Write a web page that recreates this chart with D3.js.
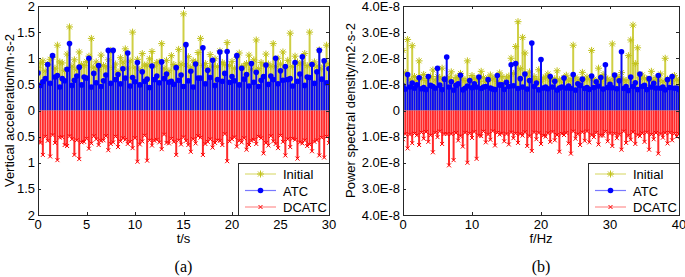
<!DOCTYPE html>
<html>
<head>
<meta charset="utf-8">
<script src="https://cdn.jsdelivr.net/npm/d3@7"></script>
<style>
  body { margin: 0; background: #fff; }
  svg { display: block; }
  text { font-family: "Liberation Sans", Arial, sans-serif; fill: #000; }
  .cap { font-family: "Liberation Serif", "Times New Roman", serif; font-size: 16px; }
</style>
</head>
<body>
<script>
// ---- data (each value is the local peak of the dense trace) ----
var seriesNames = ['Initial', 'ATC', 'DCATC']

// (a) vertical acceleration, 0-30 s
var accTimeMax = 30
var accInitial = [
  0.82, 0.91, 0.95, 0.76, 0.88, 0.98, 1.02, 0.81, 1.25, 0.93,
  0.91, 0.77, 1.08, 1.60, 0.85, 0.97, 0.79, 1.12, 0.88, 0.86,
  0.94, 1.04, 1.38, 0.83, 0.93, 0.78, 1.06, 0.86, 0.84, 0.97,
  1.15, 0.82, 0.89, 0.74, 1.01, 0.93, 1.18, 0.81, 0.95, 1.50,
  0.83, 0.98, 0.79, 1.09, 0.87, 0.87, 0.99, 1.13, 0.85, 0.92,
  0.93, 1.28, 0.81, 0.96, 0.76, 1.05, 0.88, 0.83, 1.17, 0.89,
  1.85, 0.87, 1.03, 0.83, 0.95, 0.92, 1.11, 1.38, 0.86, 0.90,
  0.81, 1.07, 0.85, 0.99, 0.84, 1.14, 0.92, 0.88, 1.30, 0.86,
  0.94, 0.81, 1.02, 1.10, 0.83, 0.86, 0.90, 1.06, 0.78, 0.97,
  1.35, 0.80, 0.92, 0.87, 1.08, 0.89, 0.85, 1.28, 0.84, 1.00,
  0.89, 1.12, 0.82, 0.96, 1.48, 0.84, 1.04, 0.92, 0.89, 0.91,
  1.09, 0.86, 1.50, 0.88, 0.93, 0.85, 1.16, 0.80, 0.87, 1.25,
  0.90]
var accATC = [
  0.72, 0.48, 0.55, 0.61, 0.88, 0.52, 1.05, 0.64, 0.67, 0.45,
  0.61, 0.57, 0.79, 1.28, 0.48, 0.58, 0.66, 0.83, 0.49, 0.64,
  0.62, 1.00, 0.45, 0.71, 0.53, 0.86, 0.46, 0.57, 0.68, 1.15,
  0.52, 1.15, 0.59, 0.69, 0.51, 0.80, 0.62, 1.10, 0.47, 0.63,
  0.55, 0.92, 0.49, 0.74, 0.56, 0.60, 0.44, 0.85, 0.59, 0.66,
  0.53, 0.93, 0.61, 0.70, 0.54, 0.56, 0.50, 0.82, 0.58, 0.68,
  0.46, 1.26, 0.57, 0.75, 0.45, 0.89, 0.62, 0.62, 1.20, 0.51,
  0.77, 0.63, 0.96, 0.48, 0.59, 1.12, 0.56, 0.71, 1.13, 0.54,
  0.65, 0.57, 1.05, 0.49, 0.81, 0.60, 0.69, 0.47, 0.90, 0.54,
  0.73, 0.46, 0.58, 0.65, 0.87, 0.50, 0.66, 0.59, 1.00, 0.51,
  0.76, 0.58, 0.84, 0.59, 0.61, 0.47, 0.92, 0.56, 0.70, 1.03,
  0.48, 0.64, 0.63, 0.88, 0.52, 0.74, 1.15, 0.60, 0.95, 0.53,
  0.80]
// DCATC is drawn downwards (magnitudes)
var accDCATC = [
  0.55, 0.62, 0.85, 0.50, 0.58, 0.88, 0.47, 0.62, 0.95, 0.52,
  0.51, 0.66, 0.68, 0.49, 0.55, 0.85, 0.57, 0.93, 0.61, 0.60,
  0.54, 0.73, 0.63, 0.49, 0.55, 0.66, 0.58, 0.57, 0.49, 0.76,
  0.64, 0.61, 0.50, 0.70, 0.59, 0.53, 0.56, 0.64, 0.60, 0.72,
  0.53, 0.98, 0.65, 0.59, 0.48, 0.96, 0.57, 0.67, 0.58, 0.56,
  0.61, 0.74, 0.46, 0.62, 0.63, 0.54, 0.60, 0.85, 0.57, 0.65,
  0.51, 0.58, 0.66, 0.79, 0.55, 0.63, 0.49, 0.52, 0.85, 0.64,
  0.60, 0.55, 0.71, 0.62, 0.57, 0.58, 0.66, 0.45, 0.97, 0.59,
  0.55, 0.51, 0.69, 0.58, 0.61, 0.53, 0.75, 0.66, 0.58, 0.56,
  0.64, 0.50, 0.53, 0.82, 0.62, 0.67, 0.49, 0.59, 0.64, 0.72,
  0.48, 0.60, 0.86, 0.55, 0.70, 0.54, 0.56, 0.92, 0.61, 0.63,
  0.57, 0.68, 0.65, 0.78, 0.60, 0.57, 0.86, 0.52, 0.90, 0.50,
  0.62]
var accXTicks = [0, 5, 10, 15, 20, 25, 30]
var accYTicks = [-2, -1.5, -1, -0.5, 0, 0.5, 1, 1.5, 2]

// (b) power spectral density, 0-40 Hz, in units of 1E-8
var psdFreqMax = 40
var psdInitial = [
  2.30, 1.45, 2.72, 1.20, 2.48, 1.30, 1.15, 1.90, 1.22, 1.38,
  1.15, 1.22, 1.30, 1.55, 1.18, 1.30, 1.25, 1.62, 1.20, 1.18,
  1.28, 1.48, 1.13, 1.27, 1.26, 1.42, 1.22, 1.15, 1.90, 1.18,
  1.34, 1.24, 1.20, 1.12, 1.50, 1.26, 1.12, 1.24, 1.36, 1.20,
  1.25, 1.11, 1.44, 1.30, 1.08, 1.25, 1.32, 2.00, 1.42, 2.45,
  3.40, 1.60, 2.80, 2.20, 1.35, 1.48, 1.16, 1.30, 1.20, 1.56,
  1.12, 1.24, 1.28, 1.40, 1.17, 1.18, 1.22, 1.52, 1.18, 1.10,
  1.26, 1.35, 1.14, 1.22, 2.50, 1.28, 1.16, 1.18, 1.46, 1.19,
  1.28, 1.20, 2.30, 1.20, 1.12, 1.62, 1.12, 1.38, 1.24, 1.20,
  1.16, 2.55, 1.22, 1.30, 1.25, 1.45, 1.18, 1.14, 2.10, 2.70,
  3.27, 1.80, 2.40, 1.25, 1.36, 1.22, 1.22, 1.18, 1.50, 1.17,
  1.26, 1.16, 1.40, 1.13, 2.00, 1.20, 1.18, 1.10, 1.34, 1.20,
  1.15]
var psdATC = [
  0.95, 0.82, 1.38, 0.90, 1.05, 0.85, 0.98, 1.25, 0.83, 0.88,
  0.80, 1.30, 0.96, 0.92, 0.85, 1.62, 0.97, 0.80, 1.20, 2.05,
  0.90, 1.10, 0.78, 0.96, 1.02, 1.35, 0.79, 0.85, 0.94, 1.15,
  0.87, 1.02, 0.90, 1.28, 0.84, 0.90, 0.92, 1.18, 0.86, 0.82,
  0.80, 1.34, 0.98, 0.98, 0.81, 1.08, 0.92, 1.75, 0.95, 1.80,
  0.84, 1.22, 0.90, 1.40, 0.82, 1.15, 2.58, 0.92, 1.05, 0.79,
  1.95, 0.86, 0.90, 0.83, 1.30, 0.90, 1.12, 0.78, 0.86, 0.90,
  1.24, 0.86, 0.94, 0.84, 1.38, 0.78, 1.02, 0.96, 1.20, 0.84,
  0.88, 0.81, 1.32, 0.88, 1.10, 0.94, 1.26, 0.82, 1.75, 0.88,
  1.00, 0.87, 1.36, 0.83, 1.14, 2.25, 0.84, 0.92, 0.77, 1.28,
  0.92, 1.06, 0.80, 1.40, 0.92, 0.96, 0.80, 1.22, 0.90, 1.04,
  0.86, 1.34, 0.85, 0.90, 0.79, 1.18, 0.88, 1.30, 0.85, 0.86,
  0.80]
var psdDCATC = [
  1.10, 0.90, 1.45, 0.92, 1.25, 0.88, 0.95, 1.32, 0.84, 1.08,
  0.82, 1.20, 0.95, 1.60, 0.85, 1.02, 0.80, 1.28, 0.90, 0.90,
  2.10, 0.90, 1.90, 0.86, 1.15, 0.98, 1.38, 0.85, 2.00, 0.88,
  1.05, 0.82, 1.85, 0.96, 0.98, 0.80, 1.22, 0.92, 1.12, 0.79,
  1.34, 0.85, 0.92, 0.88, 1.18, 0.90, 1.30, 0.84, 1.06, 0.88,
  1.24, 0.90, 0.96, 0.83, 1.36, 0.98, 1.55, 0.84, 1.10, 0.86,
  1.28, 0.96, 1.00, 0.87, 1.20, 0.82, 1.14, 0.94, 1.58, 0.89,
  0.94, 0.86, 1.26, 1.65, 0.80, 1.08, 0.91, 1.32, 0.83, 1.16,
  0.80, 1.22, 0.94, 1.02, 0.85, 1.30, 0.96, 0.96, 0.81, 1.18,
  0.88, 1.36, 0.89, 1.06, 0.92, 1.50, 0.80, 1.24, 0.97, 1.12,
  0.83, 1.28, 0.94, 0.98, 0.87, 1.20, 0.84, 1.50, 0.92, 1.10,
  0.86, 1.65, 0.90, 1.04, 0.86, 1.26, 0.85, 1.14, 0.88, 1.00,
  0.90]
var psdXTicks = [0, 10, 20, 30, 40]
var psdYTicks = [-4, -3, -2, -1, 0, 1, 2, 3, 4]

// ---- drawing ----
var W = 685, H = 277
var svg = d3.select('body').append('svg').attr('width', W).attr('height', H)

var styles = {
  Initial: { line: '#dcdc78', stem: '#cfcf44', mark: '#c2c21c' },
  ATC:     { line: '#7878ff', stem: '#0a0af5', mark: '#0000ff' },
  DCATC:   { line: '#ff9090', stem: '#ff2a2a', mark: '#ff0000' }
}

function marker(g, name, cx, cy) {
  var c = styles[name].mark
  if (name == 'Initial') {
    g.append('path')
      .attr('d', 'M' + (cx - 3.5) + ',' + cy + 'h7M' + cx + ',' + (cy - 3.5) + 'v7' +
                 'M' + (cx - 2.5) + ',' + (cy - 2.5) + 'l5,5M' + (cx - 2.5) + ',' + (cy + 2.5) + 'l5,-5')
      .attr('stroke', c).attr('stroke-width', 1).attr('fill', 'none')
  } else if (name == 'ATC') {
    g.append('circle').attr('cx', cx).attr('cy', cy).attr('r', 2.8).attr('fill', c)
  } else {
    g.append('path')
      .attr('d', 'M' + (cx - 2) + ',' + (cy - 2) + 'l4,4M' + (cx - 2) + ',' + (cy + 2) + 'l4,-4')
      .attr('stroke', c).attr('stroke-width', 1).attr('fill', 'none')
  }
}

function panel(cfg) {
  var x = d3.scaleLinear().domain([0, cfg.xMax]).range([cfg.left, cfg.right])
  var y = d3.scaleLinear().domain([cfg.yTicks[0], cfg.yTicks[cfg.yTicks.length - 1]]).range([cfg.bottom, cfg.top])
  var g = svg.append('g')

  var clip = 'clip-' + cfg.id
  svg.append('clipPath').attr('id', clip).append('rect')
    .attr('x', cfg.left).attr('y', cfg.top)
    .attr('width', cfg.right - cfg.left).attr('height', cfg.bottom - cfg.top)
  var plot = g.append('g').attr('clip-path', 'url(#' + clip + ')')

  cfg.series.forEach(function(s) {
    var n = s.values.length
    var pts = s.values.map(function(v, i) {
      return [x(i * cfg.xMax / (n - 1)), y(s.sign * v)]
    })
    var y0 = y(0)
    // dense trace: each sample shows as a stem from 0 to its peak
    plot.append('g').selectAll('line').data(pts).join('line')
      .attr('x1', function(p) { return p[0] }).attr('x2', function(p) { return p[0] })
      .attr('y1', y0).attr('y2', function(p) { return p[1] })
      .attr('stroke', styles[s.name].stem).attr('stroke-width', 2)
    var mg = plot.append('g')
    pts.forEach(function(p) { marker(mg, s.name, p[0], p[1]) })
  })

  // box + inward ticks
  g.append('rect')
    .attr('x', cfg.left + 0.5).attr('y', cfg.top + 0.5)
    .attr('width', cfg.right - cfg.left).attr('height', cfg.bottom - cfg.top)
    .attr('fill', 'none').attr('stroke', '#262626').attr('stroke-width', 1)

  var tickLen = 3
  cfg.xTicks.forEach(function(t) {
    var px = Math.round(x(t)) + 0.5
    g.append('line').attr('x1', px).attr('x2', px).attr('y1', cfg.bottom).attr('y2', cfg.bottom - tickLen).attr('stroke', '#262626')
    g.append('line').attr('x1', px).attr('x2', px).attr('y1', cfg.top).attr('y2', cfg.top + tickLen).attr('stroke', '#262626')
    g.append('text').attr('x', x(t)).attr('y', cfg.bottom + 14)
      .attr('text-anchor', 'middle').style('font-size', '13px').text(t)
  })
  cfg.yTicks.forEach(function(t) {
    var py = Math.round(y(t)) + 0.5
    g.append('line').attr('x1', cfg.left).attr('x2', cfg.left + tickLen).attr('y1', py).attr('y2', py).attr('stroke', '#262626')
    g.append('line').attr('x1', cfg.right).attr('x2', cfg.right - tickLen).attr('y1', py).attr('y2', py).attr('stroke', '#262626')
    g.append('text').attr('x', cfg.left - 3).attr('y', y(t) + 4.5)
      .attr('text-anchor', 'end').style('font-size', '13px').text(cfg.yFormat(t))
  })

  g.append('text')
    .attr('transform', 'translate(' + cfg.yLabelX + ',' + ((cfg.top + cfg.bottom) / 2) + ') rotate(-90)')
    .attr('text-anchor', 'middle').style('font-size', '13px').text(cfg.yLabel)
  g.append('text').attr('x', (cfg.left + cfg.right) / 2).attr('y', cfg.bottom + 28)
    .attr('text-anchor', 'middle').style('font-size', '13px').text(cfg.xLabel)
  g.append('text').attr('class', 'cap').attr('x', (cfg.left + cfg.right) / 2).attr('y', 272)
    .attr('text-anchor', 'middle').text(cfg.caption)

  // legend
  var lg = g.append('g')
  var lx = cfg.right - 91, ly = cfg.top + 157
  lg.append('rect').attr('x', lx + 0.5).attr('y', ly + 0.5).attr('width', 91).attr('height', cfg.bottom - ly)
    .attr('fill', '#fff').attr('stroke', '#262626')
  seriesNames.forEach(function(name, i) {
    var yy = ly + 11 + i * 16.5
    lg.append('line').attr('x1', lx + 7).attr('x2', lx + 38).attr('y1', yy).attr('y2', yy)
      .attr('stroke', styles[name].line).attr('stroke-width', 1.2)
    marker(lg, name, lx + 22.5, yy)
    lg.append('text').attr('x', lx + 45).attr('y', yy + 5).style('font-size', '13px').text(name)
  })
}

var absFmt = function(t) { return String(Math.abs(t)) }

panel({
  id: 'a', left: 38, right: 329, top: 6, bottom: 215,
  xMax: accTimeMax, xTicks: accXTicks, yTicks: accYTicks,
  yFormat: absFmt,
  yLabel: 'Vertical acceleration/m\u00b7s-2', yLabelX: 14,
  xLabel: 't/s', caption: '(a)',
  series: [
    { name: 'Initial', values: accInitial, sign: 1 },
    { name: 'ATC', values: accATC, sign: 1 },
    { name: 'DCATC', values: accDCATC, sign: -1 }
  ]
})

panel({
  id: 'b', left: 403, right: 679, top: 6, bottom: 215,
  xMax: psdFreqMax, xTicks: psdXTicks, yTicks: psdYTicks,
  yFormat: function(t) { return t == 0 ? '0' : Math.abs(t).toFixed(1) + 'E-8' },
  yLabel: 'Power spectral density/m2\u00b7s-2', yLabelX: 355,
  xLabel: 'f/Hz', caption: '(b)',
  series: [
    { name: 'Initial', values: psdInitial, sign: 1 },
    { name: 'ATC', values: psdATC, sign: 1 },
    { name: 'DCATC', values: psdDCATC, sign: -1 }
  ]
})
</script>
</body>
</html>
